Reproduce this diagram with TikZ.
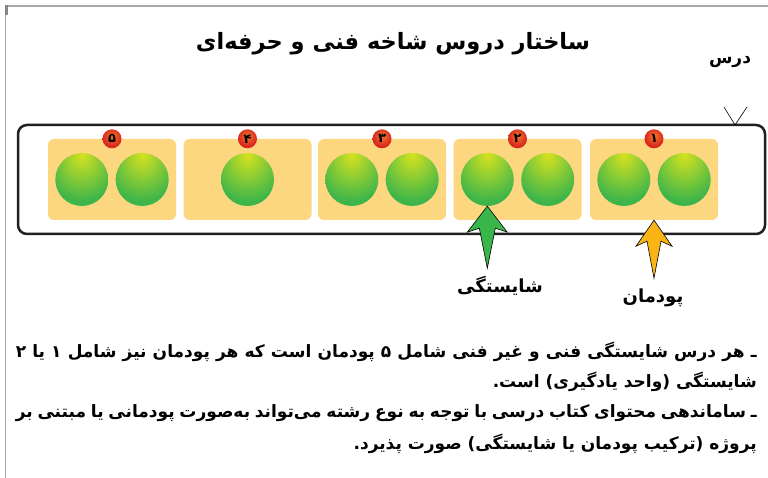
\documentclass[tikz,border=0pt]{standalone}
\usepackage{fontspec}
\newfontfamily\farsi[Script=Arabic]{DejaVu Sans}
\TeXXeTstate=1
\usetikzlibrary{positioning}

\definecolor{frame}{HTML}{231F20}
\definecolor{tilefill}{HTML}{FDD680}
\definecolor{ballgreen}{HTML}{3DB54A}
\definecolor{ballhi}{HTML}{D7E21F}
\definecolor{badgered}{HTML}{D9251E}
\definecolor{badgehi}{HTML}{F47A2A}
\definecolor{arrowgreen}{HTML}{3AB54A}
\definecolor{arrowyellow}{HTML}{FBB416}
\definecolor{edge}{HTML}{A7A9AC}

\pgfdeclareradialshading{ballshade}{\pgfpoint{0bp}{24bp}}{%
  color(0bp)=(ballhi); color(10bp)=(ballhi!70!ballgreen);
  color(32bp)=(ballgreen); color(60bp)=(ballgreen)}
\pgfdeclareradialshading{badgeshade}{\pgfpoint{0bp}{8bp}}{%
  color(0bp)=(badgehi); color(25bp)=(badgered); color(60bp)=(badgered)}

\begin{document}
\begin{tikzpicture}[x=1pt,y=-1pt,
    tile/.style={fill=tilefill, rounded corners=6pt, minimum width=128pt,
      minimum height=81pt, inner sep=0pt},
    ball/.style={circle, minimum size=53pt, inner sep=0pt, shading=ballshade},
    badge/.style={circle, minimum size=19pt, inner sep=0pt, shading=badgeshade,
      font=\farsi\bfseries\fontsize{13}{13}\selectfont},
    pointer/.style={draw=black, line width=0.6pt, line join=miter},
    farsitext/.style={font=\farsi\bfseries\fontsize{18}{21}\selectfont, inner sep=0pt},
    note/.style={farsitext, font=\farsi\bfseries\fontsize{17}{20}\selectfont, anchor=east}]
    \useasboundingbox (0,0) rectangle (768,478);

    % page edge
    \draw [edge, line width=1.5pt] (5.5,478) -- (5.5,6) -- (768,6);
    \fill [edge!80!black] (5,5) rectangle (8,15);

    % title and the lesson frame
    \node [farsitext, font=\farsi\bfseries\fontsize{22.5}{26}\selectfont] (title) at (393,44)
        {\beginR ساختار دروس شاخه فنی و حرفه‌ای\endR};
    \node [farsitext, font=\farsi\bfseries\fontsize{17}{20}\selectfont] (darsname) at (730,62)
        {\beginR درس\endR};
    \node [draw=frame, line width=2.5pt, rounded corners=9pt, minimum width=747pt,
        minimum height=109pt] (lesson) at (391.5,179.5) {};
    \coordinate (vtip) at (735,125);
    \draw [line width=0.6pt] (724,107) -- (vtip) -- (747,107);

    % modules (pudman)
    \foreach \n/\x in {5/112,4/247.5,3/382,2/517.5,1/654}{%
        \node [tile] (t\n) at (\x,179.5) {};
    }
    % competences (shayestegi)
    \foreach \n in {5,3,2,1}{%
        \node [ball, left=3.5pt of t\n.center]  (b\n l) {};
        \node [ball, right=3.5pt of t\n.center] (b\n r) {};
    }
    \node [ball] (b4) at (t4.center) {};
    % module numbers
    \foreach \n/\d in {5/۵,4/۴,3/۳,2/۲,1/۱}{%
        \node [badge] (n\n) at (t\n.north) {\d};
    }

    % pointers
    \draw [pointer, fill=arrowgreen] (b2l.south) -- ++(20,26) -- ++(-12,-4)
        -- ++(-8,40) -- ++(-8,-40) -- ++(-12,4) -- cycle;
    \draw [pointer, fill=arrowyellow] (t1.south) -- ++(18,26) -- ++(-11,-5)
        -- ++(-7,37) -- ++(-7,-37) -- ++(-11,5) -- cycle;
    \node [farsitext] (shname) at (500,286) {\beginR شایستگی\endR};
    \node [farsitext] (pdname) at (653,298) {\beginR پودمان\endR};

    % notes
    \node [note] (line1) at (757,352)
        {\hbox to 741pt{\beginR ـ هر درس شایستگی فنی و غیر فنی شامل ۵ پودمان است که هر پودمان نیز شامل ۱ یا ۲\endR}};
    \node [note] (line2) at (757,382)
        {\beginR شایستگی (واحد یادگیری) است.\endR};
    \node [note] (line3) at (757,413)
        {\hbox to 741pt{\beginR ـ ساماندهی محتوای کتاب درسی با توجه به نوع رشته می‌تواند به‌صورت پودمانی یا مبتنی بر\endR}};
    \node [note] (line4) at (757,444)
        {\beginR پروژه (ترکیب پودمان یا شایستگی) صورت پذیرد.\endR};
\end{tikzpicture}
\end{document}
